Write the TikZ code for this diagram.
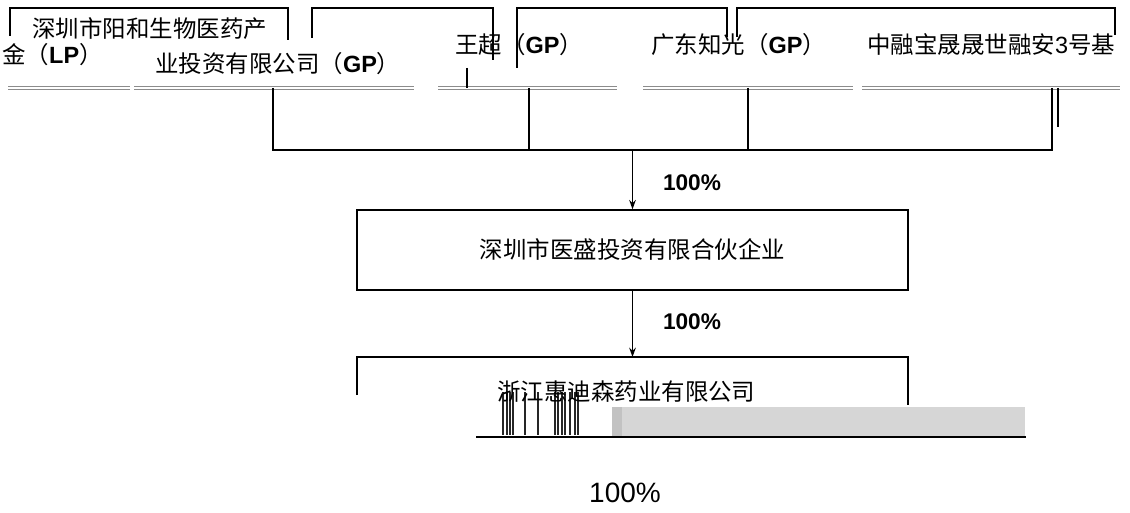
\documentclass[tikz,border=0pt]{standalone}
\usepackage{fontspec}
\setmainfont{Liberation Sans}
\newfontfamily\cjk{Noto Sans CJK SC}
\usetikzlibrary{arrows.meta}
\newcommand\latb[1]{{\rmfamily\bfseries #1}}
\newcommand\latr[1]{{\rmfamily #1}}
\definecolor{rectgray}{HTML}{D6D6D6}
\definecolor{stripgray}{HTML}{C2C2C2}
\definecolor{dblgray}{HTML}{8C8C8C}
\begin{document}
\begin{tikzpicture}[x=0.75pt,y=-0.75pt,
  ln/.style={line width=1.1pt,black},
  dblline/.style={dblgray,line width=0.7pt},
  cjktext/.style={font=\cjk\fontsize{17.6}{20}\selectfont,inner sep=0pt},
  pct/.style={font=\rmfamily\bfseries\fontsize{17}{20}\selectfont,inner sep=0pt},
  bigpct/.style={font=\rmfamily\fontsize{21}{24}\selectfont,inner sep=0pt},
  arr/.style={ln,-{Stealth[length=7pt,width=5pt]}},
  bar/.style={line width=0.8pt,black!85}
]
\useasboundingbox (0,0) rectangle (1130,513);

% top texts
\node[cjktext,anchor=west] (t1a) at (32,29) {深圳市阳和生物医药产};
\node[cjktext,anchor=west] (t4b) at (2,55) {金（\latb{LP}）};
\node[cjktext,anchor=west] (t1b) at (155,64) {业投资有限公司（\latb{GP}）};
\node[cjktext,anchor=west] (t2) at (455,45) {王超（\latb{GP}）};
\node[cjktext,anchor=west] (t3) at (651,45) {广东知光（\latb{GP}）};
\node[cjktext,anchor=west] (t4a) at (867,45) {中融宝晟晟世融安\latr{3}号基};

% partial box outlines
\draw[ln] (10,36) -- (10,8) -- (288,8) -- (288,40);
\draw[ln] (312,38) -- (312,8) -- (493,8) -- (493,60);
\draw[ln] (517,68) -- (517,8) -- (727,8) -- (727,37);
\draw[ln] (737,37) -- (737,8) -- (1115,8) -- (1115,35);

% double grey baselines
\foreach \a/\b in {8/130,134/414,438/617,643/853,862/1120}{
  \draw[dblline] (\a,86.5) -- (\b,86.5);
  \draw[dblline] (\a,89.5) -- (\b,89.5);
}
\draw[ln] (467,68) -- (467,88);

% connectors
\coordinate (c1) at (273,88);
\coordinate (c2) at (529,88);
\coordinate (c3) at (748,88);
\coordinate (c4) at (1052,88);
\coordinate (c5) at (1058,88);
\coordinate (e5) at (1058,127);
\coordinate (b1) at (273,150);
\coordinate (b4) at (1052,150);
\coordinate (m1) at (632.5,150);
\draw[ln] (c1) -- (b1) -- (b4) -- (c4);
\draw[ln] (c2) -- (c2|-b1);
\draw[ln] (c3) -- (c3|-b1);
\draw[ln] (c5) -- (e5);

% middle box
\node[draw,line width=1.1pt,inner sep=0pt,minimum width=413.25pt,minimum height=60pt,
      font=\cjk\fontsize{17.6}{20}\selectfont] (mid) at (632.5,250) {深圳市医盛投资有限合伙企业};
\draw[arr] (m1) -- (mid.north);
\node[pct] (p1) at (692,183) {100\%};

% bottom partial box
\coordinate (bt) at (632.5,357);
\draw[arr] (mid.south) -- (bt);
\node[pct] (p2) at (692,322) {100\%};
\draw[ln] (357,395) -- (357,357) -- (908,357) -- (908,405);

\fill[rectgray] (612,407) rectangle (1025,436);
\fill[stripgray] (612,407) rectangle (622,436);
\foreach \x in {503,507,510,513,525,538,555,558,562,565,570,575,578}{
  \draw[bar] (\x,392) -- (\x,435);
}
\node[cjktext,anchor=west] (t5) at (497,392) {浙江惠迪森药业有限公司};
\draw[line width=1.5pt] (476,436.5) -- (1026,436.5);

\node[bigpct] (p3) at (625,493) {100\%};
\end{tikzpicture}
\end{document}
